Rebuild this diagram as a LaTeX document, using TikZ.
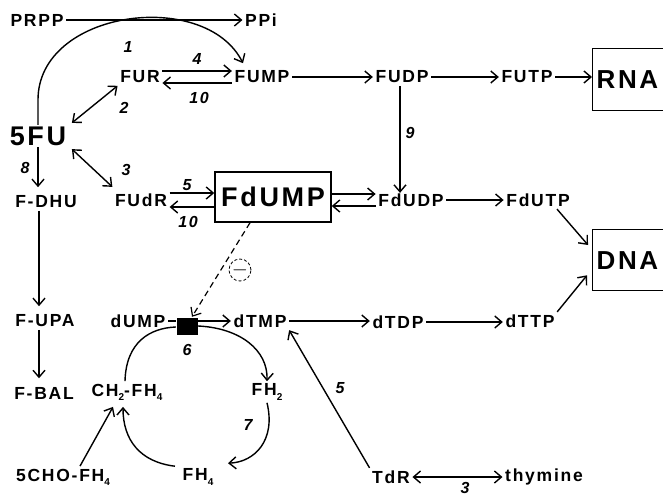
\documentclass[tikz,border=0pt]{standalone}
\usepackage{fontspec}
\setmainfont{Liberation Sans}[LetterSpace=10]
\usetikzlibrary{arrows.meta}
\newcommand\lowidx[1]{\raisebox{-0.45ex}{\fontsize{10}{10}\selectfont #1}}
\begin{document}
\begin{tikzpicture}[x=1pt,y=-1pt, line width=1.4pt,
  >={Straight Barb[length=7pt,width=12pt]},
  lbl/.style={font=\bfseries\fontsize{17.5}{17.5}\selectfont, inner sep=2pt},
  big/.style={font=\bfseries\fontsize{27}{27}\selectfont, inner sep=1pt},
  endbox/.style={draw, line width=1.3pt, font=\bfseries\fontsize{26}{26}\selectfont, inner xsep=4pt, text width=90pt},
  num/.style={font=\bfseries\itshape\fontsize{16}{16}\selectfont, inner sep=0pt}]
\clip (0,0) rectangle (663,496);
% nodes
\node[lbl] (prpp) at (37,20) {PRPP};
\node[lbl] (ppi) at (261,20) {PPi};
\node[lbl] (fur) at (140,77) {FUR};
\node[lbl] (fump) at (262,77) {FUMP};
\node[lbl] (fudp) at (402,77) {FUDP};
\node[lbl] (futp) at (527,77) {FUTP};
\node[endbox, anchor=north west, minimum height=62pt] (rna) at (592,48) {RNA};
\node[big] (fu) at (38,136) {5FU};
\node[lbl] (fdhu) at (46,202) {F-DHU};
\node[lbl] (fudr) at (141,200) {FUdR};
\node[big, draw, line width=1.5pt, minimum width=116pt, minimum height=50pt] (fdump) at (273,197) {FdUMP};
\node[lbl] (fdudp) at (411,200) {FdUDP};
\node[lbl] (fdutp) at (538,200) {FdUTP};
\node[endbox, anchor=north west, minimum height=61pt] (dna) at (592,229) {DNA};
\node[lbl] (fupa) at (45,321) {F-UPA};
\node[lbl] (dump) at (138,321) {dUMP};
\node[fill=black, minimum width=21pt, minimum height=17pt, inner sep=0pt] (ts) at (187,326) {};
\node[lbl] (dtmp) at (260,321) {dTMP};
\node[lbl] (dtdp) at (398,322) {dTDP};
\node[lbl] (dttp) at (530,321) {dTTP};
\node[lbl] (fbal) at (44,393) {F-BAL};
\node[lbl] (ch2) at (127,392) {CH\lowidx{2}-FH\lowidx{4}};
\node[lbl] (fh2) at (267,392) {FH\lowidx{2}};
\node[lbl] (cho) at (63,477) {5CHO-FH\lowidx{4}};
\node[lbl] (fh4) at (198,477) {FH\lowidx{4}};
\node[lbl] (tdr) at (391,477) {TdR};
\node[lbl] (thy) at (544,477) {thymine};
\node[circle, draw, dash pattern=on 3pt off 2pt, line width=0.8pt, minimum size=22pt, inner sep=0pt, font=\fontsize{22}{22}\selectfont] (inh) at (240,270) {$-$};
% connectors
\draw[->] (prpp) -- (ppi);
\draw[->] (fu.north) -- ++(0,-25) .. controls +(0,-90) and (205,-12) .. ([xshift=-19,yshift=5]fump.north);
\draw[->] ([yshift=6]fur.east) -- ([yshift=6]fur.east -| fump.west);
\draw[->] ([yshift=-6]fump.west) -- ([yshift=-6]fump.west -| fur.east);
\draw[<->] ([xshift=4,yshift=2]fu.north east) -- (fur.south west);
\draw[<->] ([xshift=4,yshift=-2]fu.south east) -- ([yshift=4]fudr.north west);
\draw[->] (fu.south) -- ([yshift=6]fu.south |- fdhu.north);
\draw[->] ([yshift=7]fudr.east) -- ([yshift=7]fudr.east -| fdump.west);
\draw[->] ([yshift=-7]fudr.east -| fdump.west) -- ([yshift=-7]fudr.east);
\draw[->] ([yshift=6]fdudp.west -| fdump.east) -- ([yshift=6]fdudp.west);
\draw[->] ([yshift=-6]fdudp.west) -- ([yshift=-6]fdudp.west -| fdump.east);
\draw[->] (fump) -- (fudp);
\draw[->] (fudp) -- (futp);
\draw[->] (futp.east) -- (futp.east -| rna.west);
\draw[->] ([xshift=-2]fudp.south) -- ([xshift=-2,yshift=-2]fudp.south |- fdudp.north);
\draw[->] (fdudp) -- (fdutp);
\draw[->] ([xshift=19]fdutp.south) -- ([xshift=-4,yshift=-16]dna.north west);
\draw[->] (dttp.north east) -- ([xshift=-5,yshift=16]dna.south west);
\draw[->] ([xshift=-7]fdhu.south) -- ([xshift=-6,yshift=6]fupa.north);
\draw[->] ([xshift=-6]fupa.south) -- ([xshift=-5,yshift=6]fbal.north);
\draw (dump.east) -- (dump.east -| ts.west);
\draw[->] (ts.east |- dtmp.west) -- (dtmp.west);
\draw[->] (dtmp.east) -- (dtmp.east -| dtdp.west);
\draw[->] (dtdp.east) -- (dtdp.east -| dttp.west);
\draw[->, dash pattern=on 6pt off 4pt, line width=1.2pt] ([xshift=-23]fdump.south) -- ([xshift=5]ts.north);
\draw ([xshift=-2]ch2.north) .. controls (126,342) and (150,328) .. ([yshift=-1]ts.west);
\draw[->] (ts.east) .. controls (240,328) and (268,350) .. (fh2.north);
\draw[->] (fh2.south) .. controls (276,440) and (255,462) .. ([xshift=12,yshift=3]fh4.north east);
\draw[->] ([xshift=-5]fh4.north west) .. controls (140,462) and (123,440) .. ([xshift=-4,yshift=-4]ch2.south);
\draw[->] ([xshift=17]cho.north) -- ([xshift=-14,yshift=-4]ch2.south);
\draw[->] (tdr.north west) -- (dtmp.south east);
\draw[<->] (tdr) -- (thy);
% reaction numbers
\node[num] (n1) at (128,47) {1};
\node[num] (n4) at (197,59) {4};
\node[num] (n10a) at (199,98) {10};
\node[num] (n2) at (124,108) {2};
\node[num] (n3a) at (126,170) {3};
\node[num] (n8) at (25,168) {8};
\node[num] (n5a) at (187,185) {5};
\node[num] (n10b) at (188,222) {10};
\node[num] (n9) at (410,133) {9};
\node[num] (n6) at (187,350) {6};
\node[num] (n7) at (248,425) {7};
\node[num] (n5b) at (340,388) {5};
\node[num] (n3b) at (465,488) {3};
\end{tikzpicture}
\end{document}
